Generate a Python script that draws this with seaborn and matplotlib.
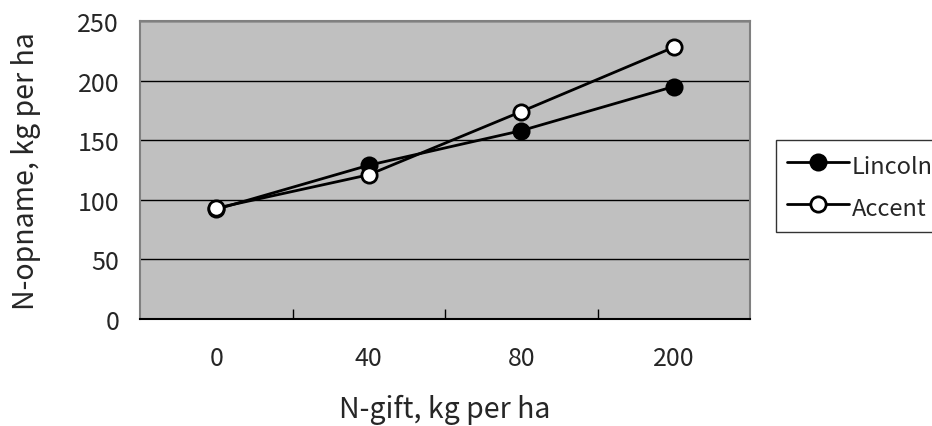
import matplotlib
matplotlib.use("Agg")
import matplotlib.pyplot as plt
import seaborn as sns
import pandas as pd

# N application levels (categories) and N uptake per cultivar
doses = ["0", "40", "80", "200"]
lincoln = [92, 129, 158, 195]
accent = [93, 121, 174, 228]
y_ticks = [0, 50, 100, 150, 200, 250]

df = pd.DataFrame({
    "dose": doses * 2,
    "uptake": lincoln + accent,
    "cultivar": ["Lincoln"] * len(doses) + ["Accent"] * len(doses),
})

sns.set_theme(style="white")
plt.rcParams["font.family"] = ["Noto Sans CJK KR", "DejaVu Sans"]

fig = plt.figure(figsize=(9.32, 4.27), dpi=100)
ax = fig.add_axes([140 / 932, 1 - 320 / 427, 610 / 932, 298 / 427])
ax.set_facecolor("#c0c0c0")

styles = {"Lincoln": "black", "Accent": "white"}
for name, face in styles.items():
    sub = df[df["cultivar"] == name]
    sns.lineplot(data=sub, x="dose", y="uptake", ax=ax, color="black",
                 linewidth=2.0, marker="o", markersize=11,
                 markerfacecolor=face, markeredgecolor="black",
                 markeredgewidth=2.0, label=name, sort=False, zorder=3)

ax.set_xlim(-0.5, len(doses) - 0.5)
ax.set_ylim(0, 250)
ax.set_yticks(y_ticks)
ax.yaxis.grid(True, color="black", linewidth=1.0)
ax.set_axisbelow(True)

# category labels centred, tick marks on category boundaries
ax.set_xticks(range(len(doses)))
ax.set_xticklabels(doses)
ax.tick_params(axis="x", which="major", length=0, pad=19, labelsize=18)
ax.set_xticks([i + 0.5 for i in range(len(doses) - 1)], minor=True)
ax.tick_params(axis="x", which="minor", direction="in", length=7,
               width=1.0, color="black", bottom=True)
ax.tick_params(axis="y", length=0, pad=15, labelsize=18)

for side in ["top", "right", "left"]:
    ax.spines[side].set_color("#808080")
    ax.spines[side].set_linewidth(1.5)
ax.spines["bottom"].set_color("black")
ax.spines["bottom"].set_linewidth(1.5)

ax.set_xlabel("N-gift, kg per ha", fontsize=20.5)
ax.xaxis.set_label_coords(0.5, -0.329)
ax.xaxis.label.set_va("baseline")
ax.set_ylabel("N-opname, kg per ha", fontsize=20.5)
ax.yaxis.set_label_coords(-0.162, 0.5)

leg = ax.legend(loc="upper left", bbox_to_anchor=(776 / 932, 1 - 141 / 427),
                bbox_transform=fig.transFigure, frameon=True, fancybox=False,
                fontsize=17, handlelength=2.65, handleheight=1.5,
                handletextpad=0.1, borderpad=0.45, labelspacing=0.55,
                borderaxespad=0)
leg.get_frame().set_edgecolor("black")
leg.get_frame().set_linewidth(1.0)

fig.savefig("out.png", dpi=100)
